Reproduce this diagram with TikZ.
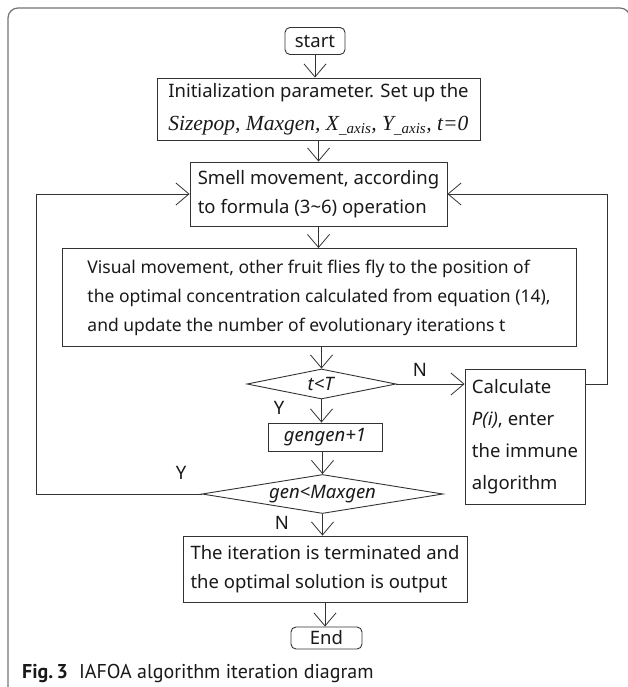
\documentclass[tikz,border=0pt]{standalone}
\usepackage{fontspec}
\setmainfont{Noto Sans}
\newfontfamily\capfont{PT Sans}
\newfontfamily\serifit{Liberation Serif}
\usetikzlibrary{arrows.meta,shapes.geometric}

\begin{document}
\begin{tikzpicture}[x=1pt,y=-1pt,
  every node/.style={font=\fontsize{18.5}{29}\selectfont, text=black!90},
  box/.style={draw=black!80, line width=0.9pt, rectangle, inner sep=0pt, align=left},
  termbox/.style={draw=black!80, line width=0.9pt, rectangle, rounded corners=5pt, inner sep=0pt},
  decision/.style={draw=black!80, line width=0.9pt, diamond, inner sep=0pt, aspect=6},
  arr/.style={draw=black!80, line width=0.9pt, -{Straight Barb[length=13pt,width=22pt,line width=0.8pt]}},
  lbl/.style={inner sep=0pt}]

\useasboundingbox (0,0) rectangle (627,687);

% outer figure frame (its right side lies just beyond the page edge)
\draw[black!55, line width=1.2pt, rounded corners=10pt] (8,690) -- (8,8) -- (630,8) -- (630,690);

% main column
\node[termbox, minimum width=60pt, minimum height=27pt] (start) at (315,41) {start};
\node[box, minimum width=323pt, minimum height=62pt, font=\fontsize{18.5}{33}\selectfont] (init) at (318.5,109)
  {Initialization parameter. Set up the\\
   {\serifit\itshape\fontsize{21.5}{33}\selectfont Sizepop, Maxgen, X\textsubscript{\_axis}, Y\textsubscript{\_axis}, t=0}};
\node[box, minimum width=257pt, minimum height=64pt] (smell) at (318.5,194)
  {Smell movement, according\\ to formula (3\textasciitilde6) operation};
\node[box, minimum width=514pt, minimum height=98pt, font=\fontsize{17.5}{29}\selectfont] (visual) at (319,297.5)
  {Visual movement, other fruit flies fly to the position of\\
   the optimal concentration calculated from equation (14),\\
   and update the number of evolutionary iterations t};
\node[decision, minimum width=149pt, minimum height=30pt] (tT) at (321.5,384) {\textit{t<T}};
\node[box, minimum width=114pt, minimum height=28pt] (inc) at (325,437) {\textit{gengen+1}};
\node[decision, minimum width=241pt, minimum height=39pt] (gen) at (322.5,494) {\textit{gen<Maxgen}};
\node[box, minimum width=284pt, minimum height=66pt] (stop) at (325,569)
  {The iteration is terminated and\\ the optimal solution is output};
\node[termbox, minimum width=71pt, minimum height=22pt] (end) at (326.5,638) {End};

% side box
\node[box, minimum width=120pt, minimum height=135pt, font=\fontsize{18.5}{32}\selectfont] (calc) at (525,437)
  {Calculate\\ \textit{P(i)}, enter\\ the immune\\ algorithm};

% loop-back columns
\coordinate (rc) at (607,0);
\coordinate (lc) at (36,0);

% connectors
\draw[arr] (start.south) -- (start.south |- init.north);
\draw[arr] (init.south) -- (init.south |- smell.north);
\draw[arr] (smell.south) -- (smell.south |- visual.north);
\draw[arr] (tT.north |- visual.south) -- (tT.north);
\draw[arr] (tT.south) -- (tT.south |- inc.north);
\draw[arr] (gen.north |- inc.south) -- (gen.north);
\draw[arr] (gen.south) -- (gen.south |- stop.north);
\draw[arr] (stop.south) -- (stop.south |- end.north);
\draw[arr] (tT.east) -- (calc.west |- tT.east);
\draw[arr] (calc.east |- tT.east) -| (rc |- smell.east) -- (smell.east);
\draw[arr] (gen.west) -| (lc |- smell.west) -- (smell.west);

% branch labels
\node[lbl] (n1) at (420,370) {N};
\node[lbl] (y1) at (279,408) {Y};
\node[lbl] (y2) at (181,473) {Y};
\node[lbl] (n2) at (282,523) {N};

% caption
\node[anchor=west, inner sep=0pt, font=\capfont\fontsize{20}{24}\selectfont, text=black!90] (cap) at (22,673)
  {\textbf{Fig.\,3}\hspace{0.55em}IAFOA algorithm iteration diagram};
\end{tikzpicture}
\end{document}
